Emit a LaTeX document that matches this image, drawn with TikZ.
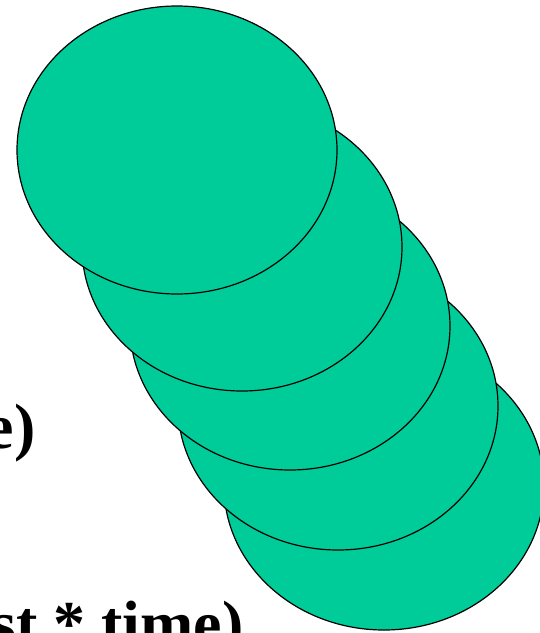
\documentclass[tikz,border=0pt]{standalone}
\usepackage{fontspec}
\setmainfont{Liberation Serif}
\usepackage{tikz}
\definecolor{DiskGreen}{RGB}{0,204,153}

\begin{document}
\begin{tikzpicture}[x=1pt,y=-1pt]
\clip (0,0) rectangle (540,633);
\useasboundingbox (0,0) rectangle (540,633);
\tikzset{disk/.style={fill=DiskGreen,draw=black,line width=1.2pt}}
\filldraw[disk] (384,486) ellipse (160pt and 144pt);
\filldraw[disk] (338,406) ellipse (160pt and 144pt);
\filldraw[disk] (290,326) ellipse (160pt and 144pt);
\filldraw[disk] (242,247) ellipse (160pt and 144pt);
\filldraw[disk] (177,150) ellipse (160pt and 144pt);
\node[anchor=base west,inner sep=0pt,font=\fontsize{64}{70}\selectfont\bfseries] (timelabel) at (-14.5,448) {e)};
\node[anchor=base west,inner sep=0pt,font=\fontsize{64}{70}\selectfont\bfseries] (costlabel) at (-9,645) {st * time)};
\end{tikzpicture}
\end{document}
